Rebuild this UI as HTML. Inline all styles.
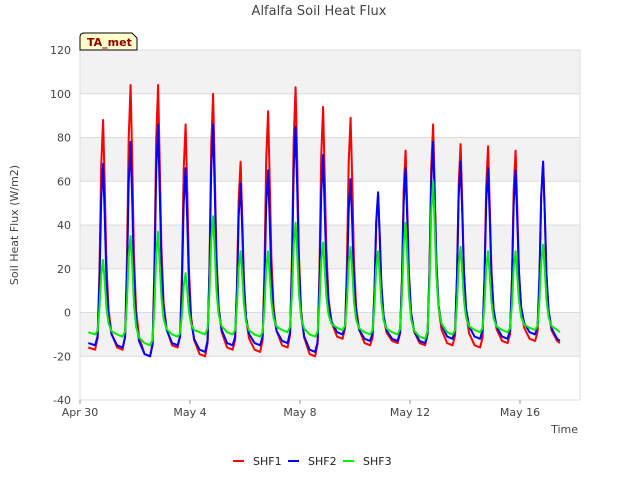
<!DOCTYPE html>
<html><head><meta charset="utf-8"><style>
body{margin:0;background:#fff;font-family:"Liberation Sans","DejaVu Sans",sans-serif}
text{font-family:"DejaVu Sans","Liberation Sans",sans-serif}
</style></head><body>
<svg id="chart" width="640" height="480">
<rect width="640" height="480" fill="#fff"/>
<text x="319" y="15" text-anchor="middle" font-size="13" fill="#444">Alfalfa Soil Heat Flux</text>
<g id="plot"></g>
<text x="18" y="225" font-size="11" fill="#444" text-anchor="middle" transform="rotate(-90 18 225)">Soil Heat Flux (W/m2)</text>
<text x="578" y="433" font-size="11" fill="#444" text-anchor="end">Time</text>
<g>
<path d="M80,50 L80,37 Q80,33 84,33 L132,33 L137,38 L137,50 Z" fill="#ffffcc" stroke="#000" stroke-width="1"/>
<text x="87" y="46" font-size="11" font-weight="bold" fill="#8b0000">TA_met</text></g>
<g id="legend"></g>
</svg>
<script>
const dayLabels=["Apr 30","May 4","May 8","May 12","May 16"];
const dayTicks=[0,4,8,12,16];
const yTicks=[-40,-20,0,20,40,60,80,100,120];
const shf1Peak=[88,104,104,86,100,69,92,103,94,89,54,74,86,77,76,74,69];
const shf2Peak=[68,78,86,66,86,59,65,85,72,61,55,66,78,69,66,65,69];
const shf3Peak=[24,35,37,18,44,28,28,41,32,30,28,41,60,30,28,28,31];
const shf1Min=[-17,-17,-20,-16,-20,-17,-18,-16,-20,-12,-15,-14,-15,-15,-16,-14,-13,-14];
const shf2Min=[-15,-16,-20,-15,-18,-15,-15,-14,-18,-10,-13,-13,-14,-12,-12,-12,-10,-13];
const shf3Min=[-10,-11,-15,-11,-10,-10,-11,-9,-11,-8,-10,-10,-12,-10,-9,-9,-8,-9];
const NS="http://www.w3.org/2000/svg";
const X0=80,X1=580,Y0=50,Y1=400;
const xs=d=>X0+d*27.5;
const ys=v=>Y1-(v+40)*(Y1-Y0)/160;
const plot=document.getElementById('plot');
function mk(t,a,p){const e=document.createElementNS(NS,t);for(const k in a)e.setAttribute(k,a[k]);(p||plot).appendChild(e);return e;}
for(let i=0;i<yTicks.length-1;i++){
 const b=mk('rect',{x:X0,y:ys(yTicks[i+1]),width:X1-X0,height:ys(yTicks[i])-ys(yTicks[i+1]),fill:(i%2==1)?'#f2f2f2':'#fff'});
 
 
}
yTicks.forEach(v=>{
 const l=mk('line',{x1:X0,x2:X1,y1:ys(v),y2:ys(v),stroke:'#dcdcdc','stroke-width':1});
 
 
 const t=mk('text',{x:X0-9,y:ys(v)+4,'text-anchor':'end','font-size':11,fill:'#444'});
 t.textContent=v;
 
 
});
mk('line',{x1:X0,x2:X0,y1:Y0,y2:Y1,stroke:'#dcdcdc'});
mk('line',{x1:X1,x2:X1,y1:Y0,y2:Y1,stroke:'#dcdcdc'});
dayTicks.forEach((d,i)=>{
 mk('line',{x1:xs(d),x2:xs(d),y1:Y1,y2:Y1+4,stroke:'#999'});
 const t=mk('text',{x:xs(d),y:Y1+16,'text-anchor':'middle','font-size':11,fill:'#444'});
 t.textContent=dayLabels[i];
 
 
});
function series(peaks,mins,color,name){
 const pts=[[0.3,mins[0]+1]];
 for(let d=0;d<peaks.length;d++){
  const p=peaks[d],m=mins[d],n=mins[d+1];
  pts.push([d+0.55,m]);pts.push([d+0.64,m+(p-m)*0.05]);pts.push([d+0.71,m+(p-m)*0.35]);
  pts.push([d+0.77,m+(p-m)*0.8]);pts.push([d+0.84,p]);pts.push([d+0.9,m+(p-m)*0.7]);
  pts.push([d+0.96,n+(p-n)*0.38]);pts.push([d+1.04,n+(p-n)*0.17]);
  pts.push([d+1.15,n+(p-n)*0.07]);pts.push([d+1.35,n+1]);
 }
 pts.push([17.45,mins[mins.length-1]]);
 const path=mk('path',{d:'M'+pts.map(q=>xs(q[0]).toFixed(1)+','+ys(q[1]).toFixed(1)).join('L'),fill:'none',stroke:color,'stroke-width':2,'stroke-linejoin':'round'});
 
 
}
series(shf1Peak,shf1Min,'#ff0000','shf1');
series(shf2Peak,shf2Min,'#0000ff','shf2');
series(shf3Peak,shf3Min,'#00ee00','shf3');
const leg=document.getElementById('legend');
[['SHF1','#ff0000',233],['SHF2','#0000ff',288],['SHF3','#00ee00',343]].forEach(e=>{
 const g=mk('g',{},leg);
 
 
 mk('line',{x1:e[2],x2:e[2]+11,y1:461,y2:461,stroke:e[1],'stroke-width':2},g);
 const t=mk('text',{x:e[2]+20,y:465,'font-size':11,fill:'#222'},g);t.textContent=e[0];
});
</script>
</body></html>
